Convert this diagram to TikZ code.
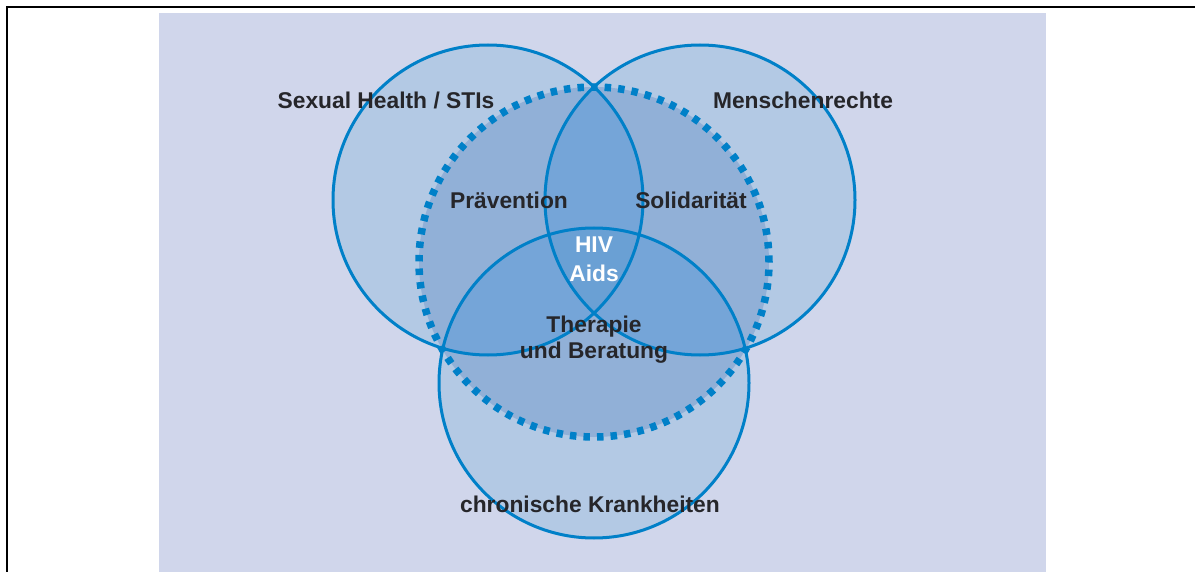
\documentclass[tikz,border=0pt]{standalone}
\usepackage{fontspec}
\setmainfont{Liberation Sans}
\definecolor{lavender}{RGB}{208,214,235}
\definecolor{ringblue}{RGB}{0,128,200}
\definecolor{shadeone}{RGB}{179,201,228}
\definecolor{shadetwo}{RGB}{145,176,215}
\definecolor{shadethree}{RGB}{117,165,216}
\definecolor{shadefour}{RGB}{106,160,212}
\definecolor{labelgray}{RGB}{38,38,42}
\begin{document}
\begin{tikzpicture}
[x=1pt,y=-1pt,
  ringdecorate/.style={draw=ringblue,line width=3pt},%
  dotdecorate/.style={draw=ringblue,line width=7.5pt,dash pattern=on 6.5pt off 7.07pt},%
  labeldecorate/.style={font=\bfseries\fontsize{22.8}{27}\selectfont,text=labelgray,align=center,inner sep=0pt}]
\useasboundingbox (0,0) rectangle (1195,572);
%% frame and background
\draw[line width=1.2pt] (7,572) -- (7,7) -- (1195,7);
\fill[lavender] (159,13) rectangle (1046,572);
%% centres of the circles
\foreach \nodename/\x/\y in {sti/488/200, rights/700/200, chronic/594/383, hiv/594/262}
{
  \coordinate (\nodename) at (\x,\y);
}
%% fills
\foreach \nodename in {sti, rights, chronic}
{
  \fill[shadeone] (\nodename) circle[radius=155pt];
}
\fill[shadetwo] (hiv) circle[radius=175pt];
\begin{scope}
  \clip (hiv) circle[radius=175pt];
  \clip (sti) circle[radius=155pt];
  \fill[shadethree] (rights) circle[radius=155pt];
  \fill[shadethree] (chronic) circle[radius=155pt];
\end{scope}
\begin{scope}
  \clip (hiv) circle[radius=175pt];
  \clip (rights) circle[radius=155pt];
  \fill[shadethree] (chronic) circle[radius=155pt];
\end{scope}
\begin{scope}
  \clip (sti) circle[radius=155pt];
  \clip (rights) circle[radius=155pt];
  \fill[shadefour] (chronic) circle[radius=155pt];
\end{scope}
%% outlines
\draw[dotdecorate] (hiv) circle[radius=175pt];
\foreach \nodename in {sti, rights, chronic}
{
  \draw[ringdecorate] (\nodename) circle[radius=155pt];
}
%% labels
\node (stilabel) [labeldecorate,anchor=base] at (386,109) {Sexual Health / STIs};
\node (rightslabel) [labeldecorate,anchor=base] at (803,109) {Menschenrechte};
\node (preventlabel) [labeldecorate,anchor=base] at (509,209) {Prävention};
\node (solidlabel) [labeldecorate,anchor=base] at (691,209) {Solidarität};
\node (hivlabel) [labeldecorate,text=white] at (594,259) {HIV\\[1.7pt]Aids};
\node (therapylabel) [labeldecorate] at (594,340) {Therapie\\[-1pt]und Beratung};
\node (chroniclabel) [labeldecorate,anchor=base] at (590,512.5) {chronische Krankheiten};
\end{tikzpicture}
\end{document}
